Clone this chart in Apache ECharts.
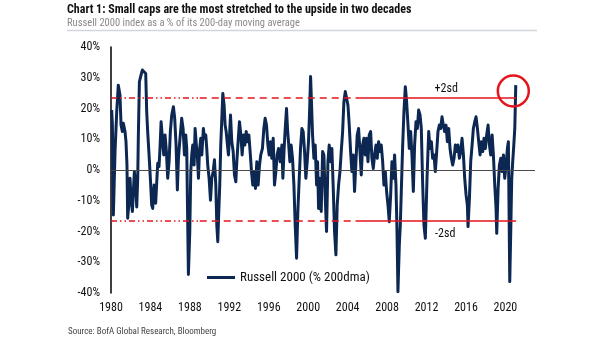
<!DOCTYPE html>
<html>
<head>
<meta charset="utf-8">
<script src="https://cdn.jsdelivr.net/npm/echarts@6/dist/echarts.min.js"></script>
<style>
html,body{margin:0;padding:0;background:#fff;}
#c{width:605px;height:341px;}
</style>
</head>
<body>
<div id="c"></div>
<script>
// ---- data (decimal year, % vs 200-day moving average) ----
const years = [
1980.07,1980.14,1980.24,1980.41,1980.58,1980.74,1980.91,1981.02,1981.15,1981.25,1981.42,1981.52,1981.62,1981.69,1981.83,1981.93,
1982.03,1982.17,1982.27,1982.37,1982.50,1982.61,1982.71,1982.77,1982.88,1983.05,1983.18,1983.38,1983.52,1983.62,1983.72,1983.86,
1984.01,1984.13,1984.23,1984.37,1984.53,1984.64,1984.74,1984.87,1984.97,1985.08,1985.21,1985.35,1985.48,1985.62,1985.75,1985.89,
1986.02,1986.16,1986.33,1986.46,1986.60,1986.73,1986.84,1986.97,1987.17,1987.31,1987.45,
1987.58,1987.68,1987.85,1987.99,1988.09,1988.19,1988.29,1988.43,1988.53,1988.63,1988.77,1988.87,1988.97,1989.10,1989.21,1989.37,
1989.48,1989.61,1989.71,1989.81,1989.95,1990.09,1990.22,1990.36,1990.49,1990.63,1990.73,1990.83,1990.93,1991.03,1991.13,1991.24,
1991.34,1991.47,1991.57,1991.68,1991.81,1991.91,1992.01,1992.12,1992.25,1992.39,1992.52,1992.66,1992.76,1992.89,1993.03,1993.17,
1993.30,1993.44,1993.57,1993.71,1993.84,1993.98,1994.11,1994.25,1994.38,1994.52,1994.65,1994.79,1994.92,1995.06,1995.19,1995.36,
1995.50,1995.63,
1995.77,1995.91,1996.04,1996.18,1996.31,1996.45,1996.58,1996.72,1996.85,1996.99,1997.16,1997.33,1997.43,1997.56,1997.67,1997.80,
1997.90,1998.00,1998.14,1998.27,1998.41,1998.55,1998.68,1998.82,1998.95,1999.09,1999.22,1999.36,1999.49,1999.63,1999.76,1999.90,
2000.03,2000.14,2000.24,2000.34,2000.44,2000.58,2000.71,2000.85,2000.95,2001.05,2001.19,2001.32,2001.46,2001.59,2001.73,2001.86,
2002.00,2002.13,2002.27,2002.40,2002.54,2002.67,2002.81,2002.94,2003.08,2003.22,2003.35,2003.49,2003.62,2003.76,
2003.89,2004.03,2004.16,2004.30,2004.43,2004.57,2004.70,2004.84,2004.97,2005.11,2005.25,2005.38,2005.52,2005.65,2005.79,2005.92,
2006.06,2006.19,2006.33,2006.46,2006.60,2006.73,2006.87,2007.00,2007.14,2007.28,2007.41,2007.55,2007.68,2007.82,2007.95,2008.09,
2008.22,2008.36,2008.49,2008.63,2008.76,2008.90,2009.00,2009.10,2009.24,2009.34,2009.44,2009.58,2009.71,2009.85,2009.98,2010.12,
2010.25,2010.39,2010.52,2010.66,2010.79,2010.93,2011.07,2011.20,2011.34,2011.47,2011.61,2011.74,2011.88,
2012.05,2012.22,2012.35,2012.49,2012.62,2012.76,2012.89,2013.03,2013.16,2013.30,2013.43,2013.57,2013.70,2013.84,2013.98,2014.11,
2014.25,2014.38,2014.52,2014.65,2014.79,2014.92,2015.06,2015.19,2015.33,2015.47,2015.60,2015.74,2015.87,2016.01,2016.14,2016.21,
2016.35,2016.48,2016.62,2016.75,2016.89,2017.02,2017.16,2017.29,2017.43,2017.56,2017.70,2017.83,2017.97,2018.10,2018.24,2018.38,
2018.51,2018.65,2018.78,2018.92,2019.05,2019.12,2019.26,2019.39,2019.53,2019.66,2019.80,2019.93,2020.07,2020.20,2020.30,2020.37,
2020.44,2020.54,2020.64,2020.74,2020.85,2020.95,2021.05
];
const values = [
19.5,14.6,-14.6,6,19,27.6,24.4,14.6,12.5,15.2,12.5,9.2,1.6,-15.7,-10.3,-2.7,
-9.2,-13.5,-7,-0.5,-4.9,-12,-2.7,10.3,28.7,30.9,32.5,32,31.4,19,12.5,4.9,
-3.8,-11.4,-12.5,-4.9,-10.8,-3.8,2.2,1.1,7,15.7,10.3,4.9,11.4,6,-2.7,2.7,
12.5,17.9,20.6,16.8,8.1,-6.5,3.8,9.2,16.8,13.5,4.9,
11.4,7,-34,-20,-0.5,4.9,8.1,1.6,13.5,9.2,3.8,-2.7,6,10.3,4.9,13.5,
10.3,11.4,7,1.6,-2.7,-9.8,-2.7,-0.5,3.3,-4.9,-17.9,-23.3,-13.5,-4.9,8.1,16.8,
24.9,21.1,14.6,12.5,8.1,4.9,10.3,17.9,9.2,6,-1.6,-3.8,2.7,9.2,15.7,11.4,
4.9,11.4,8.1,12.5,9.2,11.4,6,-0.5,-4.9,-0.5,-6,2.7,-4.9,1.6,4.9,7,
13.5,16.8,
14.6,8.1,4.9,9.2,3.8,10.3,-4.9,-0.5,4.9,7,2.7,8.1,-2.7,7,13.5,20,
13.5,9.2,2.7,8.1,3.8,-4.9,-17.9,-28.7,-13.5,-2.7,7,13.5,12.5,6,-2.7,2.7,
9.2,19,30.4,21.1,11.4,3.8,8.1,-4.9,2.7,-12.5,-2.7,-13.5,6,4.9,-9.2,-20,
2.7,8.1,2.7,7,-6,-20,-27.6,-11.4,-4.9,-0.5,6,12.5,22.2,25.5,
23.3,21.1,14.6,6,-0.5,4.9,-7,2.7,11.4,13.5,6,-1.6,8.1,10.3,4.9,10.3,
2.7,11.4,12.5,3.8,0.5,4.9,8.1,3.8,9.2,6,8.1,2.7,-4.9,-0.5,-7,-11.4,
-16.8,-8.1,2.7,-2.7,4.9,-4.9,-19,-39.6,-24.4,-17.9,-7,8.1,19,27.1,22.2,14.6,
7,12.5,4.9,-7,8.1,15.7,13.5,19.5,17.9,13.5,-4.9,-17.9,-22.2,
-2.7,12.5,7,9.2,3.8,4.9,-0.5,6,12.5,14.6,13.5,17.3,14.6,12.5,14.6,9.2,
13.5,7,3.8,1.6,3.8,8.1,6,8.1,3.8,6,10.3,4.9,-2.7,-8.1,-11.4,-18.4,
-9.2,2.7,8.1,13.5,15.7,17.3,13.5,9.2,4.9,9.2,6,10.3,7,11.4,14.6,8.1,
4.9,11.4,4.9,-4.9,-12.5,-20.6,-6,1.6,3.8,-0.5,4.9,-2.7,1.6,7,9.2,-13.5,
-36.3,-20,-2.7,2.7,8.1,13.5,27.6
];
const seriesName = 'Russell 2000 (% 200dma)';
const plus2sd = 23.6;
const minus2sd = -16.5;
const xMin = 1980, xMax = 2023, xStep = 4;
const yMin = -40, yMax = 40, yStep = 10;
// reference-line style breaks (years)
const refBreaks = [1980, 1989.0, 2004.8, 2021.08];
const bandLabels = ['+2sd', '-2sd'];
const highlightPoint = [2020.8, 25.7];

const FONT = "'Liberation Sans Narrow','Arial Narrow','Roboto Condensed',sans-serif";
const RED = '#e5131b';
const NAVY = '#0c2852';

const chart = echarts.init(document.getElementById('c'));
const data = years.map((y, i) => [y, values[i]]);

function refSegs(v) {
  const styles = [
    {type: [6, 3, 1.5, 3, 1.5, 3], width: 1.5, color: RED},
    {type: [7, 5], width: 1.5, color: RED},
    {type: 'solid', width: 1.5, color: RED}
  ];
  const out = [];
  for (let i = 0; i < 3; i++) {
    out.push([{coord: [refBreaks[i], v], lineStyle: styles[i]}, {coord: [refBreaks[i + 1], v]}]);
  }
  return out;
}

const option = {
  animation: false,
  backgroundColor: '#fff',
  textStyle: {fontFamily: FONT},
  grid: {left: 111, right: 70, top: 47, bottom: 48, containLabel: false},
  legend: {
    data: [seriesName],
    left: 207, top: 271, padding: 0,
    icon: 'rect', itemWidth: 28, itemHeight: 3,
    selectedMode: false,
    textStyle: {fontFamily: FONT, fontSize: 13, color: '#111'}
  },
  xAxis: {
    type: 'value', min: xMin, max: xMax, interval: xStep,
    axisLine: {show: false}, axisTick: {show: false}, splitLine: {show: false},
    axisLabel: {
      margin: 9, fontSize: 12, color: '#111', fontFamily: FONT,
      formatter: v => (v % xStep === 0 && v <= 2020) ? String(v) : ''
    }
  },
  yAxis: {
    type: 'value', min: yMin, max: yMax, interval: yStep,
    axisLine: {show: true, onZero: false, lineStyle: {color: '#000', width: 1.5}},
    axisTick: {show: false}, splitLine: {show: false},
    axisLabel: {margin: 11, fontSize: 12, color: '#111', fontFamily: FONT, formatter: '{value}%'}
  },
  series: [
    {
      name: 'refs', type: 'line', data: [], z: 1, silent: true,
      markLine: {
        silent: true, symbol: 'none', animation: false,
        label: {show: false},
        emphasis: {disabled: true},
        data: [
          [{coord: [xMin, 0], lineStyle: {color: '#4a4a4a', width: 1, type: 'solid'}}, {coord: [xMax, 0]}],
          ...refSegs(plus2sd),
          ...refSegs(minus2sd)
        ]
      }
    },
    {
      name: seriesName, type: 'line', data: data, z: 3,
      showSymbol: false, symbol: 'none', smooth: false,
      lineStyle: {color: NAVY, width: 3, join: 'round'},
      itemStyle: {color: NAVY},
      emphasis: {disabled: true}
    }
  ]
};
chart.setOption(option);

const pUp = chart.convertToPixel({gridIndex: 0}, [2014.0, plus2sd + 2.7]);
const pDn = chart.convertToPixel({gridIndex: 0}, [2013.9, minus2sd - 4.3]);
const pC = chart.convertToPixel({gridIndex: 0}, highlightPoint);

chart.setOption({
  graphic: [
    {type: 'text', left: 67, top: 4, style: {text: 'Chart 1: Small caps are the most stretched to the upside in two decades', font: "bold 12px " + FONT, fill: '#111'}},
    {type: 'text', left: 67, top: 18, style: {text: 'Russell 2000 index as a % of its 200-day moving average', font: "10.5px " + FONT, fill: '#8a8a8a'}},
    {type: 'line', shape: {x1: 67, y1: 30.5, x2: 537, y2: 30.5}, style: {stroke: '#d3d6de', lineWidth: 1.5}},
    {type: 'text', left: 68, top: 327, style: {text: 'Source: BofA Global Research, Bloomberg', font: "9px " + FONT, fill: '#444'}},
    {type: 'text', x: pUp[0], y: pUp[1], style: {text: bandLabels[0], font: "12px " + FONT, fill: '#111', align: 'center', verticalAlign: 'middle'}},
    {type: 'text', x: pDn[0], y: pDn[1], style: {text: bandLabels[1], font: "12px " + FONT, fill: '#111', align: 'center', verticalAlign: 'middle'}},
    {type: 'circle', shape: {cx: pC[0], cy: pC[1], r: 15.5}, style: {fill: 'none', stroke: RED, lineWidth: 2.5}, z: 10}
  ]
});
</script>
</body>
</html>
